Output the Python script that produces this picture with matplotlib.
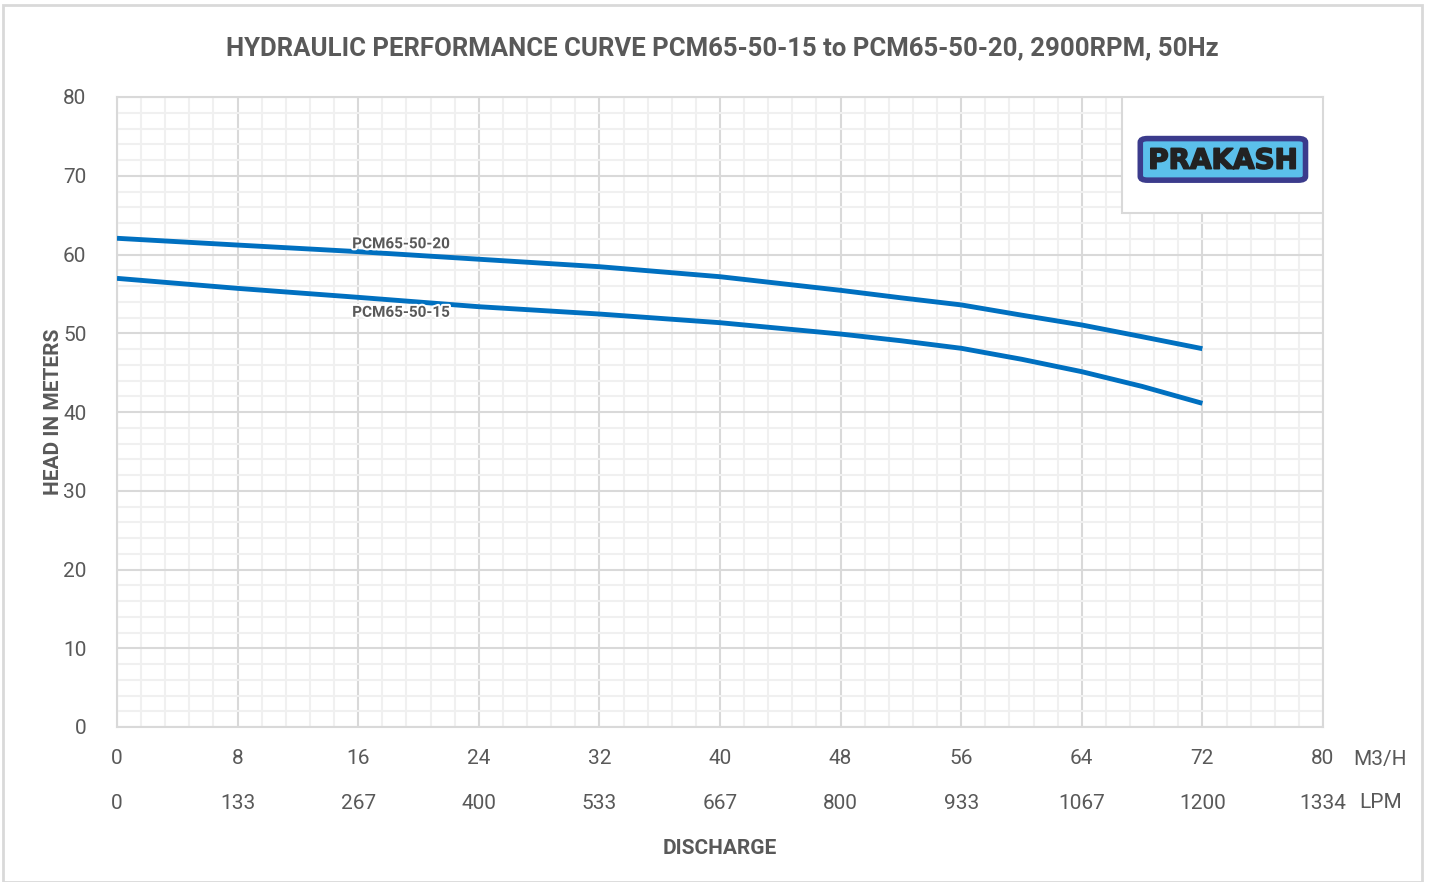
import matplotlib
matplotlib.use("Agg")
import matplotlib.pyplot as plt
import matplotlib.patheffects as pe
from matplotlib.patches import Rectangle, FancyBboxPatch
from matplotlib.ticker import MultipleLocator

plt.rcParams['font.family'] = ['Roboto', 'DejaVu Sans']

# data
flow_m3h = [0, 8, 16, 24, 32, 40, 48, 52, 56, 60, 64, 68, 72]
head_20 = [62.06, 61.2, 60.36, 59.4, 58.45, 57.18, 55.45, 54.5, 53.6, 52.3, 51.05, 49.56, 48.04]
head_15 = [56.97, 55.7, 54.56, 53.37, 52.44, 51.34, 49.9, 49.05, 48.09, 46.7, 45.12, 43.25, 41.1]

m3h_ticks = [0, 8, 16, 24, 32, 40, 48, 56, 64, 72, 80]
lpm_labels = ["0", "133", "267", "400", "533", "667", "800", "933", "1067", "1200", "1334"]
head_ticks = [0, 10, 20, 30, 40, 50, 60, 70, 80]

txt = '#595959'
blue = '#0070C0'

fig = plt.figure(figsize=(14.29, 8.82), dpi=100)
fig.patches.append(Rectangle((3 / 1429, 0.0), 1419 / 1429, 877 / 882, transform=fig.transFigure,
                             fill=False, edgecolor='#d9d9d9', linewidth=2))
ax = fig.add_axes([117 / 1429, 155 / 882, 1206 / 1429, 630 / 882])

ax.plot(flow_m3h, head_20, color=blue, linewidth=3.5, solid_capstyle='butt',
        solid_joinstyle='round', zorder=3)
ax.plot(flow_m3h, head_15, color=blue, linewidth=3.5, solid_capstyle='butt',
        solid_joinstyle='round', zorder=3)

stroke = [pe.withStroke(linewidth=3, foreground='white')]
ax.text(15.6, 61.3, "PCM65-50-20", fontsize=11, fontweight='bold', color=txt,
        ha='left', va='center', path_effects=stroke, zorder=4)
ax.text(15.6, 52.6, "PCM65-50-15", fontsize=11, fontweight='bold', color=txt,
        ha='left', va='center', path_effects=stroke, zorder=4)

ax.set_xlim(0, 80)
ax.set_ylim(0, 80)
ax.set_xticks(m3h_ticks)
ax.set_yticks(head_ticks)
ax.xaxis.set_minor_locator(MultipleLocator(1.6))
ax.yaxis.set_minor_locator(MultipleLocator(2))
ax.grid(which='major', color='#d9d9d9', linewidth=1.5)
ax.grid(which='minor', color='#f0f0f0', linewidth=1.5)
ax.set_axisbelow(True)
for s in ax.spines.values():
    s.set_color('#d9d9d9')
    s.set_linewidth(1.5)
ax.tick_params(which='both', length=0)
ax.tick_params(axis='x', labelsize=15, labelcolor=txt, pad=16)
ax.tick_params(axis='y', labelsize=15, labelcolor=txt, pad=22)

sec = ax.secondary_xaxis(-0.099)
sec.set_xticks(m3h_ticks)
sec.set_xticklabels(lpm_labels)
sec.tick_params(length=0, labelsize=15, labelcolor=txt)
sec.spines['bottom'].set_visible(False)

ax.text(1.025, -0.052, "M3/H", transform=ax.transAxes, fontsize=15, color=txt, ha='left', va='center')
ax.text(1.03, -0.12, "LPM", transform=ax.transAxes, fontsize=15, color=txt, ha='left', va='center')

ax.set_ylabel("HEAD IN METERS", fontsize=15, fontweight='bold', color=txt, labelpad=0)
ax.set_xlabel("DISCHARGE", fontsize=15, fontweight='bold', color=txt, labelpad=51)
fig.text(722 / 1429, 1 - 48 / 882, "HYDRAULIC PERFORMANCE CURVE PCM65-50-15 to PCM65-50-20, 2900RPM, 50Hz",
         fontsize=18.5, fontweight='bold', color=txt, ha='center', va='center')

# logo box
ax.add_patch(Rectangle((0.833, 0.816), 0.167, 0.184, transform=ax.transAxes,
                       facecolor='white', edgecolor='#d9d9d9', linewidth=1.5, zorder=5))
ax.add_patch(FancyBboxPatch((0.8525, 0.872), 0.129, 0.058, transform=ax.transAxes,
                            boxstyle='round,pad=0.004,rounding_size=0.006',
                            facecolor='#5bc0eb', edgecolor='#3b3b8c', linewidth=4, zorder=6))
ax.text(0.917, 0.899, "PRAKASH", transform=ax.transAxes, fontsize=20, fontweight='heavy',
        color='#222222', ha='center', va='center', family=['DejaVu Sans'], zorder=7,
        path_effects=[pe.withStroke(linewidth=1.2, foreground='#222222')])

fig.savefig("out.png", dpi=100)
